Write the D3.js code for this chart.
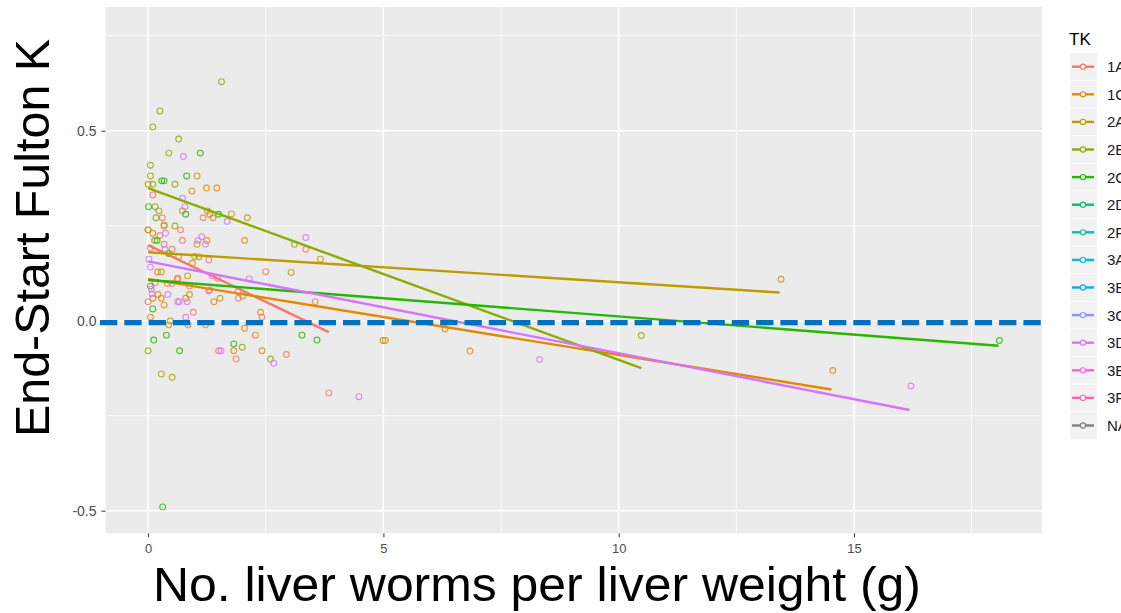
<!DOCTYPE html>
<html>
<head>
<meta charset="utf-8">
<script src="https://cdn.jsdelivr.net/npm/d3@7.9.0/dist/d3.min.js"></script>
<style>
  body { margin: 0; background: #fff; }
  svg { display: block; font-family: "Liberation Sans", Arial, sans-serif; }
</style>
</head>
<body>
<svg id="chart" width="1121" height="613"></svg>
<script>
// legend levels and ggplot hue colours
const levels = ['1A', '1C', '2A', '2B', '2C', '2D', '2F', '3A', '3B', '3C', '3D', '3E', '3F', 'NA'];
const levelColors = ['#F8766D', '#E18A00', '#BE9C00', '#8CAB00', '#24B700', '#00BE70', '#00C1AB',
  '#00BBDA', '#00ACFC', '#8B93FF', '#D575FE', '#F962DD', '#FF65AC', '#7F7F7F'];

// observed points per TK group: [worms per g, change in Fulton K]
const pts1A = [[0.10, 0.331], [1.17, 0.271], [1.38, 0.271], [0.30, 0.271], [0.69, 0.239], [0.25, 0.224],
  [0.73, 0.211], [0.34, 0.201], [0.05, 0.191], [0.51, 0.188], [3.35, 0.188], [1.29, 0.160], [2.50, 0.129],
  [3.55, 0.050], [0.41, 0.098], [0.51, 0.098], [0.15, 0.100], [0.63, 0.112], [1.48, 0.112], [0.88, 0.091],
  [1.31, 0.081], [1.91, 0.076], [1.92, 0.059], [0.00, 0.050], [0.96, 0.022], [2.42, 0.009], [1.50, -0.079],
  [1.87, -0.101], [2.94, -0.089], [3.84, -0.190]];
const pts1C = [[1.24, 0.349], [1.46, 0.349], [0.93, 0.341], [1.31, 0.280], [0.34, 0.249], [0.10, 0.230],
  [1.25, 0.211], [2.05, 0.211], [0.00, 0.239], [0.94, 0.151], [0.20, 0.128], [0.28, 0.128], [0.62, 0.109],
  [0.84, 0.118], [0.21, 0.069], [0.10, 0.059], [0.28, 0.059], [0.80, 0.059], [0.34, 0.041], [1.40, 0.050],
  [2.39, 0.022], [0.05, 0.009], [0.85, -0.011], [1.22, -0.011], [2.05, -0.020], [2.28, -0.038], [1.82, -0.079],
  [2.42, -0.079], [4.99, -0.052], [5.04, -0.052], [6.31, -0.022], [6.84, -0.080], [14.55, -0.131]];
const pts2A = [[1.04, 0.381], [0.00, 0.359], [0.73, 0.289], [1.26, 0.289], [1.77, 0.281], [2.11, 0.271],
  [0.00, 0.239], [1.04, 0.201], [0.65, 0.169], [0.99, 0.169], [3.04, 0.127], [2.01, 0.065], [0.88, 0.069],
  [1.53, 0.059], [0.47, -0.001], [0.44, -0.011], [3.66, 0.162], [0.28, -0.140], [0.51, -0.149],
  [13.45, 0.109], [0.34, 0.252]];
const pts2B = [[1.56, 0.629], [0.25, 0.552], [0.10, 0.510], [0.65, 0.478], [0.44, 0.441], [0.05, 0.409],
  [0.05, 0.381], [0.10, 0.359], [0.57, 0.359], [0.15, 0.300], [0.23, 0.289], [0.17, 0.271], [0.57, 0.249],
  [0.14, 0.211], [3.11, 0.201], [1.08, 0.168], [2.00, -0.070], [2.60, -0.101], [0.00, -0.079], [10.48, -0.039]];
const pts2C = [[1.11, 0.441], [0.29, 0.368], [0.34, 0.368], [0.82, 0.381], [0.01, 0.300], [0.80, 0.280],
  [1.50, 0.280], [0.19, 0.211], [0.44, 0.177], [0.05, 0.091], [0.10, 0.031], [0.12, -0.051], [0.39, -0.038],
  [0.67, -0.079], [1.82, -0.061], [3.27, -0.038], [3.59, -0.051], [0.31, -0.490], [18.09, -0.052]];
const pts3D = [[0.75, 0.432], [0.73, 0.322], [0.78, 0.300], [1.68, 0.261], [0.37, 0.230], [1.14, 0.221],
  [1.06, 0.211], [1.22, 0.201], [0.36, 0.188], [0.02, 0.162], [0.05, 0.141], [3.35, 0.219], [1.36, 0.118],
  [2.15, 0.110], [0.07, 0.083], [0.08, 0.070], [1.29, 0.078], [0.42, 0.069], [0.63, 0.050], [0.66, 0.050],
  [0.83, 0.050], [0.80, 0.009], [1.55, -0.079], [2.67, -0.112], [4.48, -0.200], [8.32, -0.102], [16.21, -0.172]];
const pointSets = [['1A', pts1A], ['1C', pts1C], ['2A', pts2A], ['2B', pts2B], ['2C', pts2C], ['3D', pts3D]];

// linear fits per group, start and end
const fitGroups = ['1A', '1C', '2A', '2B', '2C', '3D'];
const fitX0 = [0, 0, 0, 0, 0, 0];
const fitY0 = [0.199, 0.110, 0.180, 0.349, 0.107, 0.156];
const fitX1 = [3.84, 14.52, 13.42, 10.48, 18.07, 16.18];
const fitY1 = [-0.030, -0.181, 0.074, -0.125, -0.066, -0.235];

const xTicks = [0, 5, 10, 15];
const xMinor = [2.5, 7.5, 12.5, 17.5];
const yTicks = [-0.5, 0, 0.5];
const yMinor = [-0.25, 0.25, 0.75];

const panel = { left: 105.5, right: 1042, top: 7, bottom: 533.3 };
const color = d3.scaleOrdinal(levels, levelColors);
const x = d3.scaleLinear().domain([-0.905, 18.995]).range([panel.left, panel.right]);
const y = d3.scaleLinear().domain([-0.5595, 0.8255]).range([panel.bottom, panel.top]);

const svg = d3.select('#chart');

svg.append('rect')
  .attr('x', panel.left).attr('y', panel.top)
  .attr('width', panel.right - panel.left).attr('height', panel.bottom - panel.top)
  .attr('fill', '#EBEBEB');

const grid = svg.append('g');
grid.selectAll('.vmin').data(xMinor).join('line')
  .attr('x1', d => x(d)).attr('x2', d => x(d)).attr('y1', panel.top).attr('y2', panel.bottom)
  .attr('stroke', '#fff').attr('stroke-width', 0.8);
grid.selectAll('.hmin').data(yMinor).join('line')
  .attr('y1', d => y(d)).attr('y2', d => y(d)).attr('x1', panel.left).attr('x2', panel.right)
  .attr('stroke', '#fff').attr('stroke-width', 0.8);
grid.selectAll('.vmaj').data(xTicks).join('line')
  .attr('x1', d => x(d)).attr('x2', d => x(d)).attr('y1', panel.top).attr('y2', panel.bottom)
  .attr('stroke', '#fff').attr('stroke-width', 1.6);
grid.selectAll('.hmaj').data(yTicks).join('line')
  .attr('y1', d => y(d)).attr('y2', d => y(d)).attr('x1', panel.left).attr('x2', panel.right)
  .attr('stroke', '#fff').attr('stroke-width', 1.6);

// axes (ggplot uses a plain hyphen for negatives)
const fmtY = d => d3.format('.1f')(d).replace('\u2212', '-');
const xAxis = svg.append('g')
  .attr('transform', `translate(0,${panel.bottom})`)
  .call(d3.axisBottom(x).tickValues(xTicks).tickFormat(d3.format('d')).tickSize(4).tickPadding(6));
const yAxis = svg.append('g')
  .attr('transform', `translate(${panel.left},0)`)
  .call(d3.axisLeft(y).tickValues(yTicks).tickFormat(fmtY).tickSize(4).tickPadding(5));
[xAxis, yAxis].forEach(a => {
  a.select('.domain').remove();
  a.selectAll('line').attr('stroke', '#333');
  a.selectAll('text').attr('fill', '#4D4D4D').attr('font-size', 13)
    .attr('font-family', '"Liberation Sans", Arial, sans-serif');
});
yAxis.selectAll('text').attr('font-size', 14);

// points
const pointLayer = svg.append('g');
pointSets.forEach(([grp, pts]) => {
  pointLayer.selectAll(null).data(pts).join('circle')
    .attr('cx', d => x(d[0])).attr('cy', d => y(d[1])).attr('r', 2.9)
    .attr('fill', 'none').attr('stroke', color(grp)).attr('stroke-width', 1.15)
    .attr('stroke-opacity', 0.8);
});

// fitted lines
svg.append('g').selectAll('line').data(fitGroups).join('line')
  .attr('x1', (d, i) => x(fitX0[i])).attr('y1', (d, i) => y(fitY0[i]))
  .attr('x2', (d, i) => x(fitX1[i])).attr('y2', (d, i) => y(fitY1[i]))
  .attr('stroke', d => color(d)).attr('stroke-width', 2.4).attr('stroke-linecap', 'butt');

// dashed reference line at zero
svg.append('line')
  .attr('x1', 100).attr('x2', panel.right)
  .attr('y1', y(0) + 2).attr('y2', y(0) + 2)
  .attr('stroke', '#0070C0').attr('stroke-width', 5.3)
  .attr('stroke-dasharray', '17.3 7');

// axis titles
svg.append('text')
  .attr('x', 537).attr('y', 601).attr('text-anchor', 'middle')
  .attr('font-size', 49).attr('fill', '#000')
  .attr('textLength', 768).attr('lengthAdjust', 'spacingAndGlyphs')
  .text('No. liver worms per liver weight (g)');
svg.append('text')
  .attr('transform', 'translate(49,238) rotate(-90)').attr('text-anchor', 'middle')
  .attr('font-size', 49).attr('fill', '#000')
  .attr('textLength', 398).attr('lengthAdjust', 'spacingAndGlyphs')
  .text('End-Start Fulton K');

// legend (labels run off the right edge, as in the source image)
const legend = svg.append('g');
legend.append('text').attr('x', 1069).attr('y', 45).attr('font-size', 17).attr('fill', '#000').text('TK');
const rowH = 27.6;
const rows = legend.selectAll('.row').data(levels).join('g')
  .attr('transform', (d, i) => `translate(1070,${66.7 + i * rowH})`);
rows.append('rect').attr('x', 0).attr('y', -13.3).attr('width', 27).attr('height', 26.6).attr('fill', '#F2F2F2');
rows.append('line').attr('x1', 2).attr('x2', 24).attr('y1', 0).attr('y2', 0)
  .attr('stroke', d => color(d)).attr('stroke-width', 2.4);
rows.append('circle').attr('cx', 13).attr('cy', 0).attr('r', 2.6)
  .attr('fill', '#F2F2F2').attr('stroke', d => color(d)).attr('stroke-width', 1.1);
rows.append('text').attr('x', 37).attr('y', 5.5).attr('font-size', 15).attr('fill', '#1A1A1A').text(d => d);
</script>
</body>
</html>
